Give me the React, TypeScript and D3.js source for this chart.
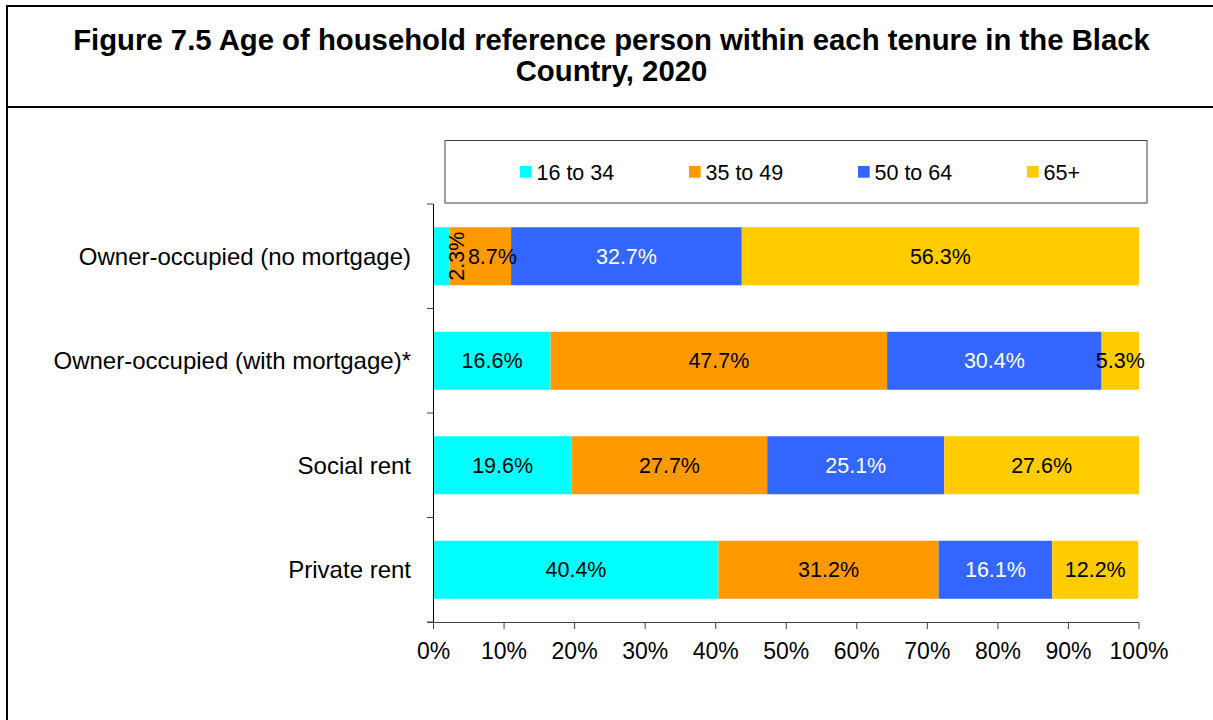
import React from "react";
import * as d3 from "d3";

const titleLines = [
  "Figure 7.5 Age of household reference person within each tenure in the Black",
  "Country, 2020",
];
const categories = [
  "Owner-occupied (no mortgage)",
  "Owner-occupied (with mortgage)*",
  "Social rent",
  "Private rent",
];
const seriesNames = ["16 to 34", "35 to 49", "50 to 64", "65+"];
const seriesColors = ["#00FFFF", "#FF9900", "#3366FF", "#FFCC00"];
const labelColors = ["#000000", "#000000", "#FFFFFF", "#000000"];
const age16to34 = [2.3, 16.6, 19.6, 40.4];
const age35to49 = [8.7, 47.7, 27.7, 31.2];
const age50to64 = [32.7, 30.4, 25.1, 16.1];
const age65plus = [56.3, 5.3, 27.6, 12.2];
const xTicks = [0, 10, 20, 30, 40, 50, 60, 70, 80, 90, 100];

const FONT = "Arial, 'Liberation Sans', Helvetica, sans-serif";

export default function App() {
  const W = 1213;
  const H = 720;
  const series = [age16to34, age35to49, age50to64, age65plus];

  const x = d3.scaleLinear().domain([0, 100]).range([433.5, 1139]);
  const y = d3
    .scaleBand<string>()
    .domain(categories)
    .range([204, 622])
    .paddingInner(0.445)
    .paddingOuter(0.2225);

  const table = categories.map((c, i) => {
    const row: any = { cat: c };
    seriesNames.forEach((s, j) => (row[s] = series[j][i]));
    return row;
  });
  const stacked = d3.stack<any>().keys(seriesNames)(table);

  const boundaries = d3.range(categories.length + 1).map((i) => 204 + i * y.step());

  const legendX0 = 520;
  const legendStep = 169;

  return (
    <svg
      width={W}
      height={H}
      style={{ position: "absolute", left: 0, top: 0, background: "#fff" }}
      fontFamily={FONT}
    >
      <rect x={0} y={0} width={W} height={H} fill="#fff" />
      {/* frame */}
      <rect x={7} y={6} width={1230} height={740} fill="none" stroke="#000" strokeWidth={2} />
      <line x1={7} x2={W + 10} y1={107} y2={107} stroke="#000" strokeWidth={2} />
      {titleLines.map((t, i) => (
        <text
          key={i}
          x={611.5}
          y={50 + i * 31}
          textAnchor="middle"
          fontWeight="bold"
          fontSize={29.3}
          fill="#000"
        >
          {t}
        </text>
      ))}

      {/* legend */}
      <rect x={445} y={140.5} width={702} height={62.5} fill="#fff" stroke="#404040" strokeWidth={1} />
      {seriesNames.map((s, i) => (
        <g key={s}>
          <rect
            x={legendX0 + i * legendStep}
            y={166}
            width={11.7}
            height={11.7}
            fill={seriesColors[i]}
          />
          <text x={legendX0 + i * legendStep + 16.5} y={179.5} fontSize={21.5} fill="#000">
            {s}
          </text>
        </g>
      ))}

      {/* bars */}
      {stacked.map((layer, j) =>
        layer.map((d, i) => (
          <rect
            key={`${j}-${i}`}
            x={x(d[0])}
            y={y(categories[i])}
            width={x(d[1]) - x(d[0])}
            height={y.bandwidth()}
            fill={seriesColors[j]}
          />
        ))
      )}

      {/* bar labels */}
      {stacked.map((layer, j) =>
        layer.map((d, i) => {
          const v = series[j][i];
          const cx = (x(d[0]) + x(d[1])) / 2;
          const cy = (y(categories[i]) as number) + y.bandwidth() / 2;
          const label = `${v.toFixed(1)}%`;
          if (i === 0 && j === 0) {
            return (
              <text
                key={`l${j}-${i}`}
                transform={`translate(${cx + 22},${cy}) rotate(-90)`}
                textAnchor="middle"
                fontSize={21.5}
                fill={labelColors[j]}
              >
                {label}
              </text>
            );
          }
          const nudge = i === 0 && j === 1 ? 12 : 0;
          return (
            <text
              key={`l${j}-${i}`}
              x={cx + nudge}
              y={cy + 7.5}
              textAnchor="middle"
              fontSize={21.5}
              fill={labelColors[j]}
            >
              {label}
            </text>
          );
        })
      )}

      {/* y axis */}
      <line x1={433.5} x2={433.5} y1={boundaries[0]} y2={622} stroke="#000" strokeWidth={1} />
      {boundaries.map((b, i) => (
        <line key={i} x1={427} x2={433.5} y1={b} y2={b} stroke="#404040" strokeWidth={1} />
      ))}
      {categories.map((c) => (
        <text
          key={c}
          x={411}
          y={(y(c) as number) + y.bandwidth() / 2 + 8.5}
          textAnchor="end"
          fontSize={24}
          fill="#000"
        >
          {c}
        </text>
      ))}

      {/* x axis */}
      <line x1={427} x2={1139} y1={622.5} y2={622.5} stroke="#404040" strokeWidth={1} />
      {xTicks.map((t) => (
        <g key={t}>
          <line x1={x(t)} x2={x(t)} y1={622.5} y2={629} stroke="#404040" strokeWidth={1} />
          <text x={x(t)} y={659} textAnchor="middle" fontSize={23} fill="#000">
            {`${t}%`}
          </text>
        </g>
      ))}
    </svg>
  );
}
